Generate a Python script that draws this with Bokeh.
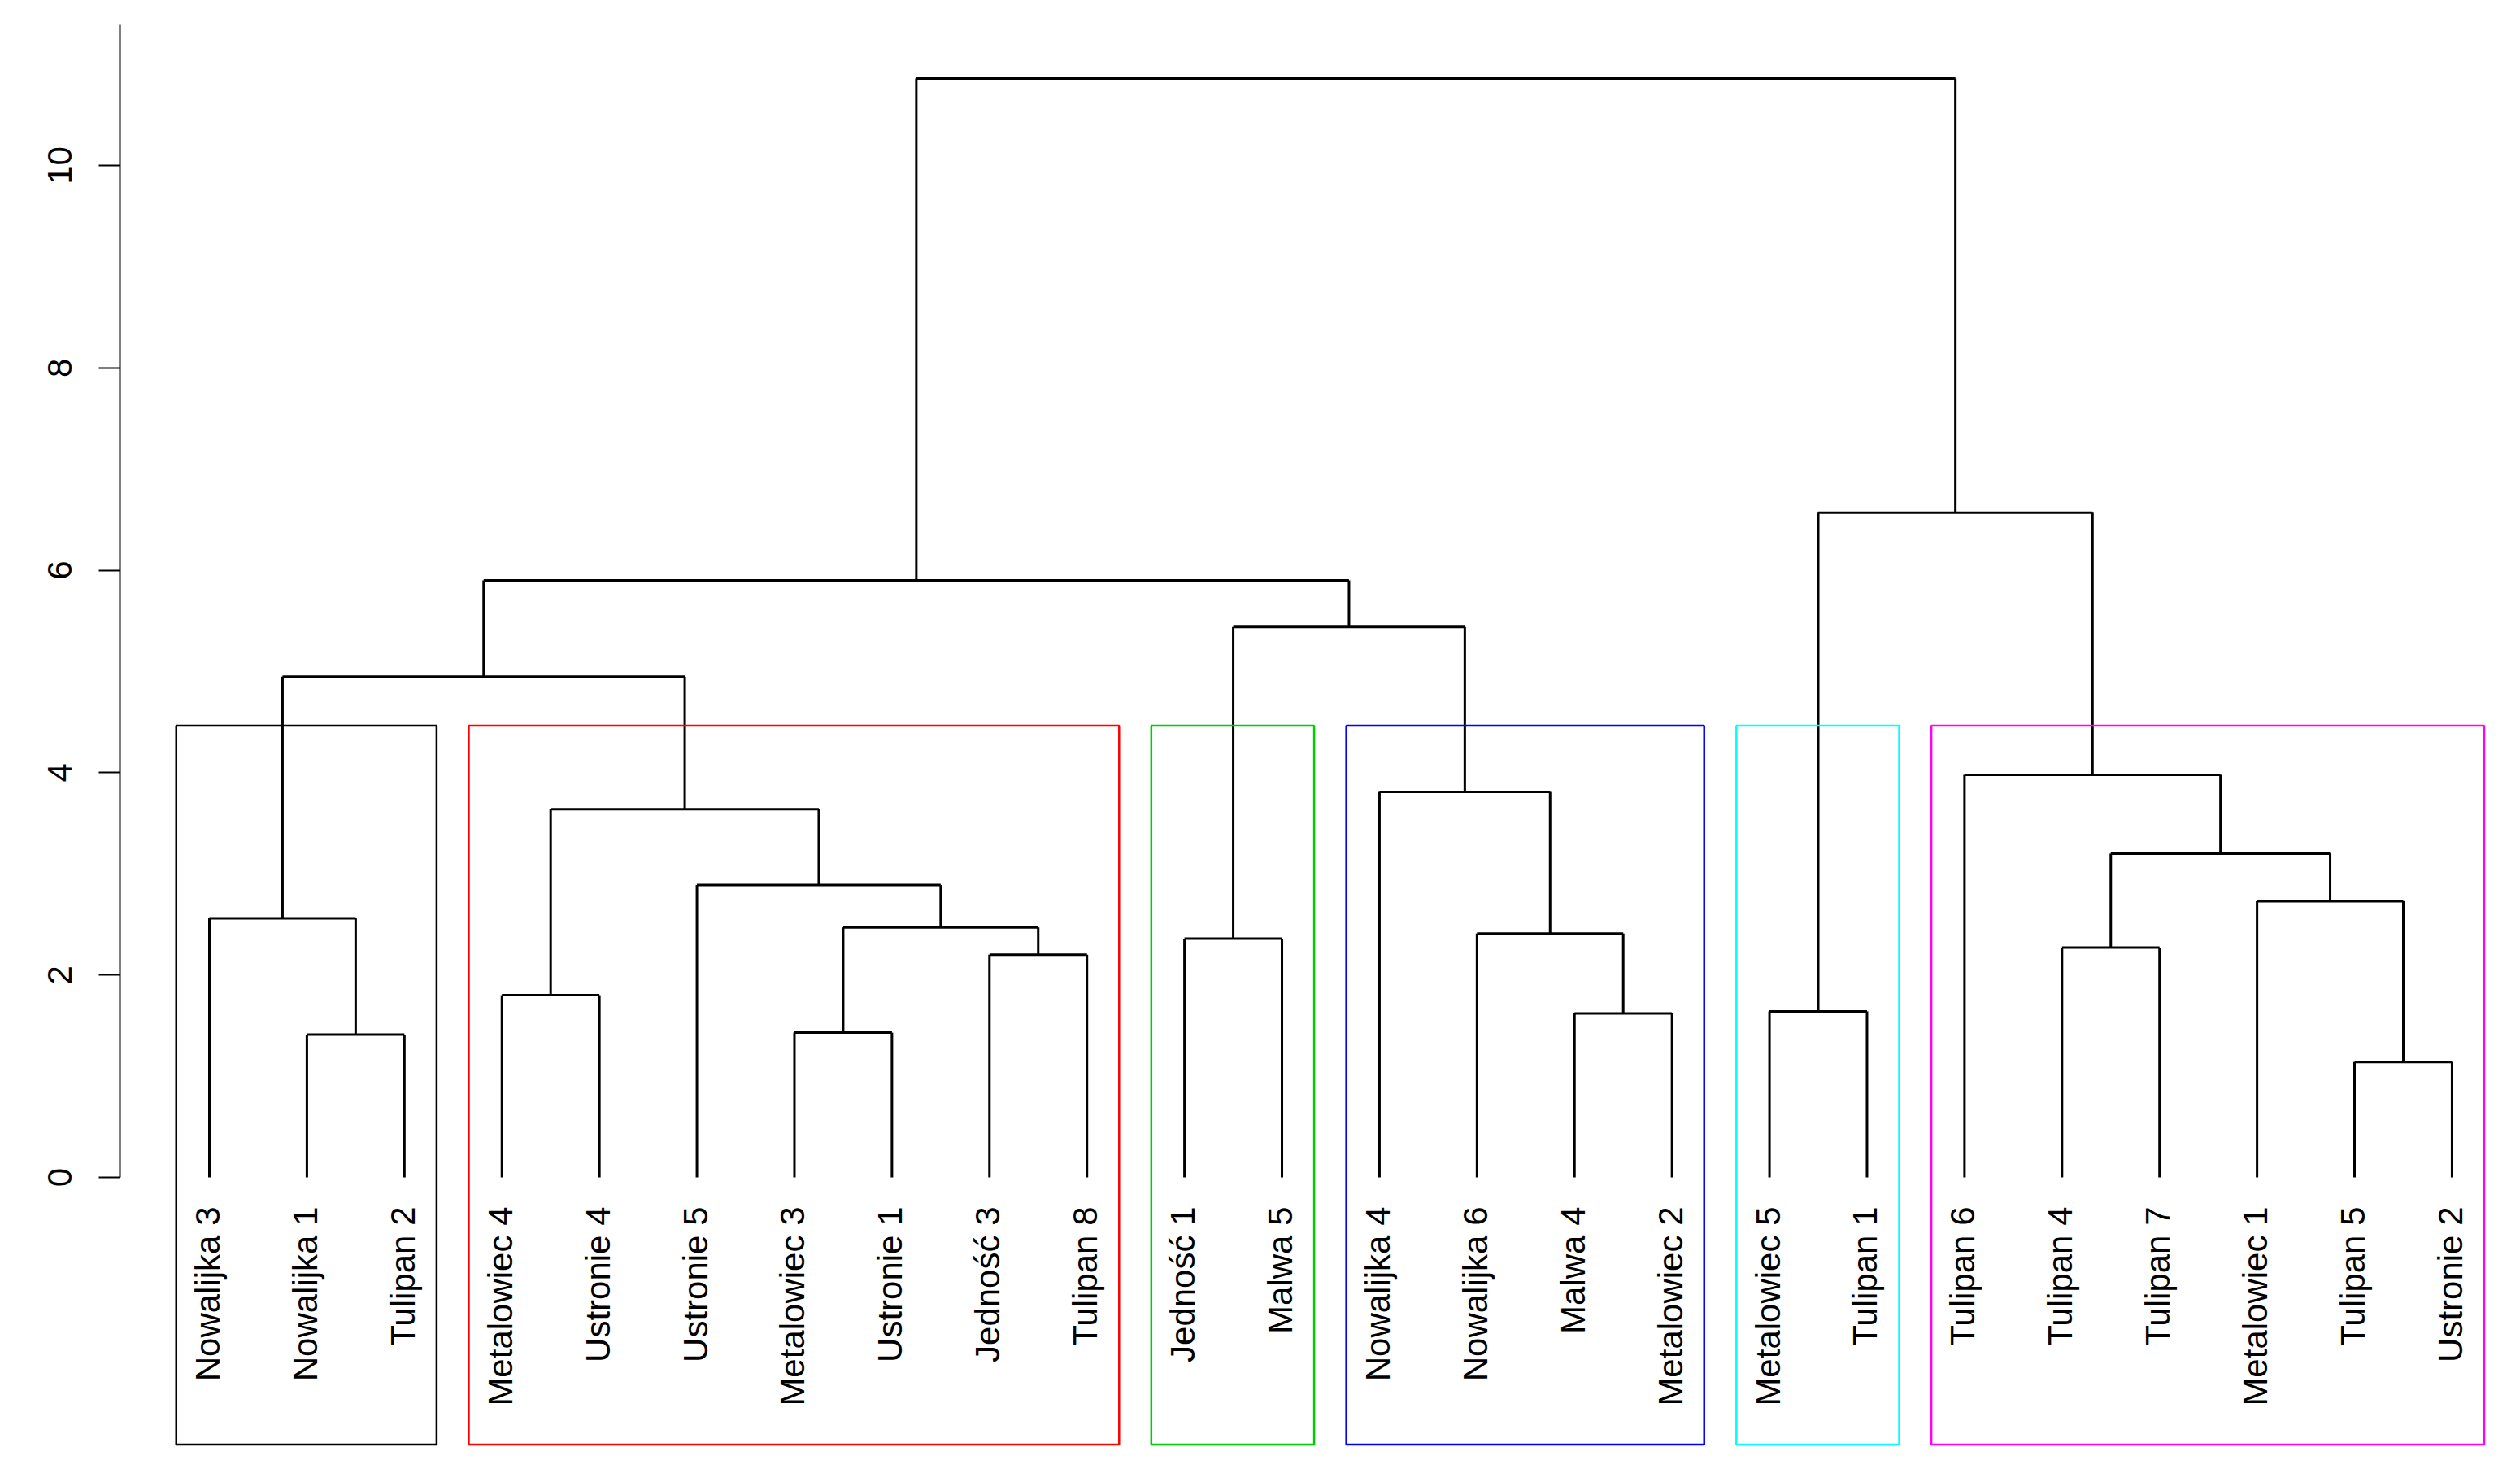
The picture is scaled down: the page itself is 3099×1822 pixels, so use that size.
import math
from bokeh.plotting import figure
from bokeh.models import Range1d, ColumnDataSource, FixedTicker
from bokeh.core.properties import value
from bokeh.embed import file_html
from bokeh.resources import INLINE

# ---- data -------------------------------------------------------------
# leaf labels in dendrogram display order (position 1..24)
labels = [
    "Nowalijka 3", "Nowalijka 1", "Tulipan 2",
    "Metalowiec 4", "Ustronie 4", "Ustronie 5", "Metalowiec 3", "Ustronie 1", "Jedność 3", "Tulipan 8",
    "Jedność 1", "Malwa 5",
    "Nowalijka 4", "Nowalijka 6", "Malwa 4", "Metalowiec 2",
    "Metalowiec 5", "Tulipan 1",
    "Tulipan 6", "Tulipan 4", "Tulipan 7", "Metalowiec 1", "Tulipan 5", "Ustronie 2",
]

# merges in hclust notation: negative = leaf at display position k, positive = earlier merge (1-based)
merge_left = [-23, -2, -7, -15, -17, -4, -9, -20, -11, -14, 3, -1, -22, -6, 8, 6, -13, -19, 12, 9, 19, 5, 21]
merge_right = [-24, -3, -8, -16, -18, -5, -10, -21, -12, 4, 7, 2, 1, 11, 13, 14, 10, 15, 16, 17, 20, 18, 22]
merge_height = [1.14, 1.41, 1.43, 1.62, 1.64, 1.80, 2.20, 2.27, 2.36, 2.41, 2.47, 2.56,
                2.73, 2.89, 3.20, 3.64, 3.81, 3.98, 4.95, 5.44, 5.90, 6.57, 10.86]

cluster_sizes = [3, 7, 2, 4, 2, 6]
cluster_colors = ["black", "#FF0000", "#00CD00", "#0000FF", "#00FFFF", "#FF00FF"]
y_ticks = [0, 2, 4, 6, 8, 10]

# ---- tree geometry ----------------------------------------------------
n_merge = len(merge_height)
node_x = [0.0] * n_merge
def child_pos(c):
    if c < 0:
        return float(-c), 0.0
    return node_x[c - 1], merge_height[c - 1]

x0s, y0s, x1s, y1s = [], [], [], []
for i in range(n_merge):
    xl, hl = child_pos(merge_left[i])
    xr, hr = child_pos(merge_right[i])
    h = merge_height[i]
    node_x[i] = (xl + xr) / 2.0
    x0s += [xl, xl, xr]
    y0s += [hl, h, hr]
    x1s += [xl, xr, xr]
    y1s += [h, h, h]

k = len(cluster_sizes)
sorted_h = sorted(merge_height, reverse=True)
cut = (sorted_h[k - 2] + sorted_h[k - 1]) / 2.0
rect_bottom = -2.64
lefts, rights = [], []
acc = 0
for s in cluster_sizes:
    lefts.append(acc + 0.66)
    acc += s
    rights.append(acc + 0.33)

# ---- figure -----------------------------------------------------------
p = figure(width=3092, height=1800, output_backend="svg", toolbar_location=None,
           x_axis_type=None,
           x_range=Range1d(0.0826, 24.626), y_range=Range1d(-2.757, 11.551),
           min_border_left=147, min_border_right=2, min_border_top=10, min_border_bottom=10)
p.outline_line_color = None
p.grid.visible = False
p.background_fill_color = "white"

p.segment(x0=x0s, y0=y0s, x1=x1s, y1=y1s, line_color="black", line_width=3)

p.quad(left=lefts, right=rights, bottom=[rect_bottom] * k, top=[cut] * k,
       fill_color=None, line_color=cluster_colors, line_width=2.5)

src = ColumnDataSource(dict(x=list(range(1, len(labels) + 1)), y=[0] * len(labels), t=labels))
p.text(x="x", y="y", text="t", source=src, angle=math.pi / 2, text_align="right",
       text_baseline="middle", y_offset=36, x_offset=-2,
       text_font=value("Liberation Sans"), text_font_size="42px", text_color="black")

ax = p.yaxis[0]
ax.ticker = FixedTicker(ticks=y_ticks)
ax.bounds = (0, 11.39)
ax.major_tick_out = 26
ax.major_tick_in = 0
ax.minor_tick_line_color = None
ax.major_tick_line_width = 2
ax.axis_line_width = 2
ax.major_label_orientation = "vertical"
ax.major_label_text_font = "Liberation Sans"
ax.major_label_text_font_size = "42px"
ax.major_label_text_color = "black"
ax.major_label_standoff = 33

open("out.html", "w").write(file_html(p, INLINE))
